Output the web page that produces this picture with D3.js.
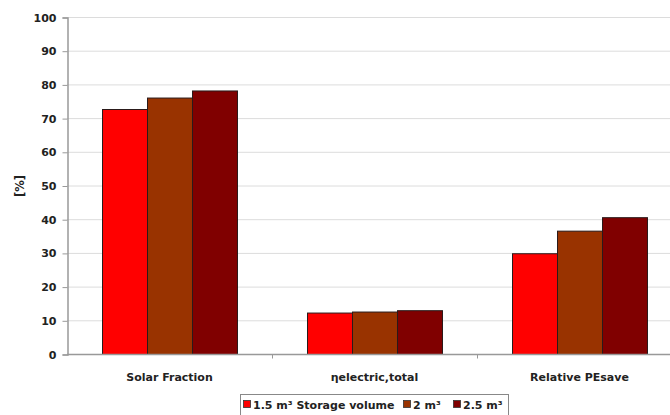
<!DOCTYPE html>
<html>
<head>
<meta charset="utf-8">
<script src="https://cdn.jsdelivr.net/npm/d3@7"></script>
<style>
  html, body { margin: 0; padding: 0; background: #fff; }
  svg { display: block; }
  text { font-family: "DejaVu Sans", Verdana, sans-serif; font-weight: bold; fill: #222; }
</style>
</head>
<body>
<svg id="chart" width="670" height="415"></svg>
<script>
// Indicators compared for three storage volumes
const categories = ["Solar Fraction", "ηelectric,total", "Relative PEsave"];
const seriesNames = ["1.5 m³ Storage volume", "2 m³", "2.5 m³"];
const storage15 = [72.7, 12.3, 29.9];
const storage2  = [76.1, 12.6, 36.6];
const storage25 = [78.2, 13.0, 40.6];
const yTicks = [0, 10, 20, 30, 40, 50, 60, 70, 80, 90, 100];
const colors = ["#ff0000", "#993300", "#800000"];

const seriesValues = [storage15, storage2, storage25];

const svg = d3.select("#chart");
const plot = { left: 67, right: 682, top: 17, bottom: 354 };

const x0 = d3.scaleBand().domain(categories).range([plot.left, plot.right]).padding(0);
const x1 = d3.scaleBand().domain(d3.range(seriesNames.length))
  .range([0, x0.bandwidth()]).paddingInner(0).paddingOuter(0.778);
const y = d3.scaleLinear().domain([0, 100]).range([plot.bottom, plot.top]);

// horizontal gridlines
svg.append("g").selectAll("line").data(yTicks.filter(t => t > 0)).join("line")
  .attr("x1", plot.left).attr("x2", 670)
  .attr("y1", d => y(d) + 0.5).attr("y2", d => y(d) + 0.5)
  .attr("stroke", "#dcdcdc").attr("stroke-width", 1);

// bars
const groups = svg.append("g").selectAll("g").data(categories).join("g")
  .attr("transform", d => `translate(${x0(d)},0)`);
groups.selectAll("rect")
  .data((c, ci) => seriesValues.map((vals, si) => ({ si, v: vals[ci] })))
  .join("rect")
  .attr("x", d => x1(d.si) + 0.5)
  .attr("width", x1.bandwidth())
  .attr("y", d => y(d.v) + 0.5)
  .attr("height", d => y(0) - y(d.v))
  .attr("fill", d => colors[d.si])
  .attr("stroke", "#2a1a1a").attr("stroke-width", 1);

// y axis
const yAxis = d3.axisLeft(y).tickValues(yTicks).tickSize(5).tickPadding(6);
const gy = svg.append("g").attr("transform", `translate(${plot.left + 0.5},0.5)`).call(yAxis);
gy.select(".domain").attr("stroke", "#999").attr("stroke-width", 1.5);
gy.selectAll(".tick line").attr("stroke", "#999");
gy.selectAll(".tick text").style("font-size", "11px").style("font-family", "DejaVu Sans").style("font-weight", "bold").attr("fill", "#222");

// x axis with ticks between categories
const xBase = svg.append("g").attr("transform", `translate(0,${plot.bottom + 0.5})`);
xBase.append("line").attr("x1", plot.left).attr("x2", 670).attr("stroke", "#999").attr("stroke-width", 1.5);
xBase.selectAll("line.tk").data(categories.slice(1)).join("line").attr("class", "tk")
  .attr("x1", d => x0(d) + 0.5).attr("x2", d => x0(d) + 0.5)
  .attr("y1", 0).attr("y2", 4).attr("stroke", "#999");
xBase.selectAll("text").data(categories).join("text")
  .attr("x", d => x0(d) + x0.bandwidth() / 2)
  .attr("y", 26)
  .attr("text-anchor", "middle")
  .style("font-size", "11px")
  .text(d => d);

// y axis title
svg.append("text")
  .attr("transform", "translate(24,186) rotate(-90)")
  .attr("text-anchor", "middle")
  .style("font-size", "11.5px")
  .text("[%]");

// legend
const legend = svg.append("g");
legend.append("rect").attr("x", 240.5).attr("y", 394.5).attr("width", 268).attr("height", 22)
  .attr("fill", "#fff").attr("stroke", "#888");
const legendX = [243, 403, 453];
const items = legend.selectAll("g.item").data(seriesNames).join("g").attr("class", "item")
  .attr("transform", (d, i) => `translate(${legendX[i]},0)`);
items.append("rect").attr("x", 0.5).attr("y", 400.5).attr("width", 7).attr("height", 7)
  .attr("fill", (d, i) => colors[i]).attr("stroke", "#333").attr("stroke-width", 0.8);
items.append("text").attr("x", 10).attr("y", 408.5)
  .style("font-size", "11px")
  .text(d => d);
</script>
</body>
</html>
